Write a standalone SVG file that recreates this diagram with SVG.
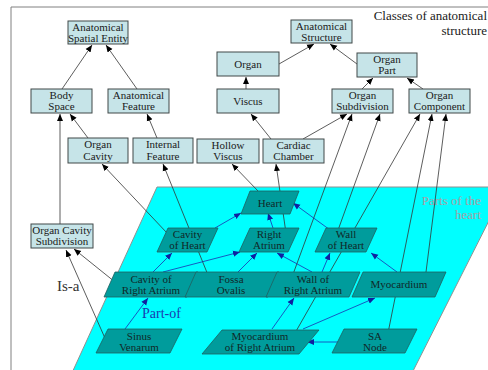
<svg xmlns="http://www.w3.org/2000/svg" width="488" height="370" viewBox="0 0 488 370">
<defs>
<marker id="ab" markerUnits="userSpaceOnUse" markerWidth="8" markerHeight="8" viewBox="0 0 8 8" refX="7" refY="4" orient="auto"><path d="M0,1 L7,4 L0,7 Z" fill="#000"/></marker>
<marker id="au" markerUnits="userSpaceOnUse" markerWidth="8" markerHeight="8" viewBox="0 0 8 8" refX="7" refY="4" orient="auto"><path d="M0,1 L7,4 L0,7 Z" fill="#1020a0"/></marker>
<style>
.box{fill:#c6e4e8;stroke:#404848;stroke-width:1}
.par{fill:#009c9c;stroke:#206060;stroke-width:0.8}
text{font-family:"Liberation Serif","Times New Roman",serif;font-size:11px;text-anchor:middle;fill:#1a1a1a}
.pt{fill:#102828}
.isa{stroke:#333;stroke-width:0.8;fill:none;marker-end:url(#ab)}
.po{stroke:#1a30b0;stroke-width:0.8;fill:none;marker-end:url(#au)}
</style>
</defs>
<rect width="488" height="370" fill="#fff"/>
<path d="M11,370 L11,7 L488,7" fill="none" stroke="#808080" stroke-width="1"/>
<polygon points="157,187 506,187 411,375 71,375" fill="#00ffff" stroke="#909090" stroke-width="1"/>
<text x="487" y="20" style="font-size:13px;text-anchor:end">Classes of anatomical</text>
<text x="487" y="35" style="font-size:13px;text-anchor:end">structure</text>
<text x="481" y="205" style="font-size:13px;text-anchor:end;fill:#a8a0a4">Parts of the</text>
<text x="481" y="219" style="font-size:13px;text-anchor:end;fill:#a8a0a4">heart</text>
<text x="57" y="291" style="font-size:15px;text-anchor:start;fill:#333">Is-a</text>
<text x="142" y="318" style="font-size:14px;text-anchor:start;fill:#1a3ab0">Part-of</text>
<g id="connectors">
<line class="isa" x1="62" y1="89" x2="92" y2="45"/>
<line class="isa" x1="137" y1="89" x2="106" y2="45"/>
<line class="isa" x1="88" y1="138" x2="70" y2="114"/>
<line class="isa" x1="60" y1="224" x2="60" y2="114"/>
<line class="isa" x1="157" y1="138" x2="147" y2="114"/>
<line class="isa" x1="246" y1="89" x2="246" y2="77"/>
<line class="isa" x1="279" y1="64" x2="314" y2="44"/>
<line class="isa" x1="357" y1="64" x2="330" y2="44"/>
<line class="isa" x1="362" y1="89" x2="373" y2="78"/>
<line class="isa" x1="423" y1="89" x2="407" y2="78"/>
<line class="isa" x1="271" y1="139" x2="251" y2="114"/>
<line class="isa" x1="303" y1="139" x2="347" y2="114"/>
<line class="isa" x1="258" y1="191" x2="232" y2="164"/>
<line class="isa" x1="287" y1="240" x2="276" y2="164"/>
<line class="isa" x1="167" y1="233" x2="102" y2="164"/>
<line class="isa" x1="210" y1="280" x2="163" y2="164"/>
<line class="isa" x1="115" y1="282" x2="74" y2="249"/>
<line class="isa" x1="108" y1="345" x2="66" y2="250"/>
<line class="isa" x1="292" y1="277" x2="352" y2="114"/>
<line class="isa" x1="337" y1="233" x2="380" y2="114"/>
<line class="isa" x1="295" y1="333" x2="420" y2="114"/>
<line class="isa" x1="388" y1="333" x2="432" y2="114"/>
<line class="isa" x1="426" y1="272" x2="446" y2="114"/>
<line class="po" x1="215" y1="228" x2="241" y2="213"/>
<line class="po" x1="273" y1="228" x2="268" y2="213"/>
<line class="po" x1="337" y1="235" x2="293" y2="203"/>
<line class="po" x1="153" y1="272" x2="172" y2="253"/>
<line class="po" x1="163" y1="272" x2="240" y2="252"/>
<line class="po" x1="238" y1="272" x2="257" y2="253"/>
<line class="po" x1="312" y1="272" x2="277" y2="253"/>
<line class="po" x1="322" y1="272" x2="330" y2="253"/>
<line class="po" x1="397" y1="272" x2="371" y2="253"/>
<line class="po" x1="125" y1="329" x2="148" y2="298"/>
<line class="po" x1="272" y1="329" x2="294" y2="298"/>
<line class="po" x1="303" y1="329" x2="375" y2="298"/>
<line class="po" x1="340" y1="342" x2="307" y2="342"/>
</g>
<g id="n-ase"><rect class="box" x="68" y="21" width="60" height="23"/><text x="98" y="31">Anatomical</text><text x="98" y="42">Spatial Entity</text></g>
<g id="n-bodyspace"><rect class="box" x="31" y="89" width="61" height="24"/><text x="61.5" y="99">Body</text><text x="61.5" y="110">Space</text></g>
<g id="n-anatfeature"><rect class="box" x="108" y="89" width="61" height="24"/><text x="138.5" y="99">Anatomical</text><text x="138.5" y="110">Feature</text></g>
<g id="n-organcavity"><rect class="box" x="68" y="138" width="60" height="25"/><text x="98" y="148">Organ</text><text x="98" y="160">Cavity</text></g>
<g id="n-internalfeature"><rect class="box" x="133" y="138" width="60" height="25"/><text x="163" y="148">Internal</text><text x="163" y="160">Feature</text></g>
<g id="n-hollowviscus"><rect class="box" x="197" y="139" width="62" height="24"/><text x="228" y="149">Hollow</text><text x="228" y="160">Viscus</text></g>
<g id="n-cardiacchamber"><rect class="box" x="263" y="139" width="61" height="24"/><text x="293.5" y="149">Cardiac</text><text x="293.5" y="160">Chamber</text></g>
<g id="n-anatstructure"><rect class="box" x="291" y="20" width="61" height="23"/><text x="321.5" y="30">Anatomical</text><text x="321.5" y="41">Structure</text></g>
<g id="n-organ"><rect class="box" x="217" y="52" width="62" height="24"/><text x="248" y="68">Organ</text></g>
<g id="n-organpart"><rect class="box" x="357" y="53" width="60" height="24"/><text x="387" y="63">Organ</text><text x="387" y="74">Part</text></g>
<g id="n-viscus"><rect class="box" x="217" y="89" width="62" height="24"/><text x="248" y="105">Viscus</text></g>
<g id="n-organsubdivision"><rect class="box" x="332" y="89" width="61" height="24"/><text x="362.5" y="99">Organ</text><text x="362.5" y="110">Subdivision</text></g>
<g id="n-organcomponent"><rect class="box" x="409" y="89" width="61" height="24"/><text x="439.5" y="99">Organ</text><text x="439.5" y="110">Component</text></g>
<g id="n-ocs"><rect class="box" x="31" y="224" width="62" height="24"/><text x="62" y="234">Organ Cavity</text><text x="62" y="245">Subdivision</text></g>
<g id="n-heart"><polygon class="par" points="250,191 299,191 290,214 241,214"/><text class="pt" x="270" y="207">Heart</text></g>
<g id="n-cavityofheart"><polygon class="par" points="168,228 218,228 207,252 157,252"/><text class="pt" x="187.5" y="238">Cavity</text><text class="pt" x="187.5" y="249">of Heart</text></g>
<g id="n-rightatrium"><polygon class="par" points="250,228 299,228 288,252 239,252"/><text class="pt" x="269" y="238">Right</text><text class="pt" x="269" y="249">Atrium</text></g>
<g id="n-wallofheart"><polygon class="par" points="326,228 377,228 366,252 315,252"/><text class="pt" x="346" y="238">Wall</text><text class="pt" x="346" y="249">of Heart</text></g>
<g id="n-cavityofra"><polygon class="par" points="115,272 198,272 187,297 104,297"/><text class="pt" x="151" y="283">Cavity of</text><text class="pt" x="151" y="294">Right Atrium</text></g>
<g id="n-fossaovalis"><polygon class="par" points="196,272 279,272 268,297 185,297"/><text class="pt" x="231" y="283">Fossa</text><text class="pt" x="231" y="294">Ovalis</text></g>
<g id="n-wallofra"><polygon class="par" points="277,272 360,272 349,297 266,297"/><text class="pt" x="313" y="283">Wall of</text><text class="pt" x="313" y="294">Right Atrium</text></g>
<g id="n-myocardium"><polygon class="par" points="363,272 446,272 435,297 352,297"/><text class="pt" x="399" y="288">Myocardium</text></g>
<g id="n-sinusvenarum"><polygon class="par" points="108,329 182,329 170,353 96,353"/><text class="pt" x="139" y="340">Sinus</text><text class="pt" x="139" y="351">Venarum</text></g>
<g id="n-myoofra"><polygon class="par" points="222,330 319,330 299,354 202,354"/><text class="pt" x="260" y="340">Myocardium</text><text class="pt" x="260" y="351">of Right Atrium</text></g>
<g id="n-sanode"><polygon class="par" points="344,329 417,329 405,353 332,353"/><text class="pt" x="375" y="340">SA</text><text class="pt" x="375" y="351">Node</text></g>
</svg>
